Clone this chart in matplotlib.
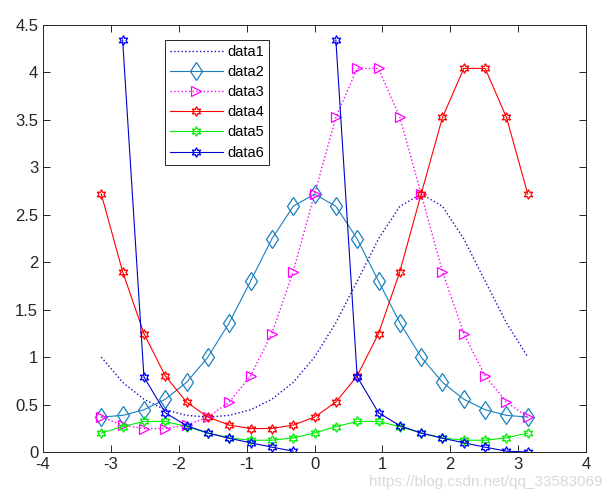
import numpy as np
import matplotlib
matplotlib.use("Agg")
import matplotlib.pyplot as plt

plt.rcParams['font.family'] = ['Liberation Sans', 'DejaVu Sans']

x = [-3.1416, -2.8274, -2.5133, -2.1991, -1.8850, -1.5708, -1.2566, -0.9425,
     -0.6283, -0.3142, 0.0, 0.3142, 0.6283, 0.9425, 1.2566, 1.5708, 1.8850,
     2.1991, 2.5133, 2.8274, 3.1416]

data1 = [1.000, 0.734, 0.556, 0.445, 0.386, 0.368, 0.386, 0.445, 0.556, 0.734,
         1.000, 1.362, 1.800, 2.246, 2.589, 2.718, 2.589, 2.246, 1.800, 1.362, 1.000]
data2 = [0.368, 0.386, 0.445, 0.556, 0.734, 1.000, 1.362, 1.800, 2.246, 2.589,
         2.718, 2.589, 2.246, 1.800, 1.362, 1.000, 0.734, 0.556, 0.445, 0.386, 0.368]
data3 = [0.368, 0.284, 0.247, 0.247, 0.284, 0.368, 0.526, 0.802, 1.248, 1.900,
         2.718, 3.526, 4.042, 4.042, 3.526, 2.718, 1.900, 1.248, 0.802, 0.526, 0.368]
data4 = [2.718, 1.900, 1.248, 0.802, 0.526, 0.368, 0.284, 0.247, 0.247, 0.284,
         0.368, 0.526, 0.802, 1.248, 1.900, 2.718, 3.526, 4.042, 4.042, 3.526, 2.718]
data5 = [0.200, 0.268, 0.322, 0.322, 0.268, 0.200, 0.149, 0.124, 0.124, 0.149,
         0.200, 0.268, 0.322, 0.322, 0.268, 0.200, 0.149, 0.124, 0.124, 0.149, 0.200]
data6 = [np.nan, 4.342, 0.792, 0.414, 0.277, 0.200, 0.145, 0.097, 0.051, 0.009,
         np.nan, 4.342, 0.792, 0.414, 0.277, 0.200, 0.145, 0.097, 0.051, 0.009, 0.000]

labels = ['data1', 'data2', 'data3', 'data4', 'data5', 'data6']
xticks = [-4, -3, -2, -1, 0, 1, 2, 3, 4]
yticks = [0, 0.5, 1, 1.5, 2, 2.5, 3, 3.5, 4, 4.5]

fig = plt.figure(figsize=(6.12, 4.96), dpi=100)
ax = fig.add_axes([0.0703, 0.0887, 0.8873, 0.861])

hexa = (6, 1, 0)
lw = 0.8
ax.plot(x, data1, ':', color='#1010c0', lw=1.0, label=labels[0])
ax.plot(x, data2, '-', color='#1a7fbf', lw=lw, marker='d', ms=9.5,
        mfc='none', mew=0.9, label=labels[1])
ax.plot(x, data3, ':', color='#ff00ff', lw=1.0, marker='>', ms=7.5,
        mfc='none', mew=0.9, label=labels[2])
ax.plot(x, data4, '-', color='#ff0000', lw=lw, marker=hexa, ms=7,
        mfc='none', mew=0.9, label=labels[3])
ax.plot(x, data5, '-', color='#00ee00', lw=lw, marker=hexa, ms=7,
        mfc='none', mew=0.9, label=labels[4])
ax.plot(x, data6, '-', color='#0000cc', lw=lw, marker=hexa, ms=7,
        mfc='none', mec='#0000ff', mew=0.9, label=labels[5])

ax.set_xlim(-4, 4)
ax.set_ylim(0, 4.5)
ax.set_xticks(xticks)
ax.set_xticklabels([str(t) for t in xticks])
ax.set_yticks(yticks)
ax.set_yticklabels(['0', '0.5', '1', '1.5', '2', '2.5', '3', '3.5', '4', '4.5'])
ax.tick_params(direction='in', top=True, right=True, labelsize=12,
               length=5, width=0.7, colors='#262626')
for s in ax.spines.values():
    s.set_linewidth(0.7)
    s.set_color('#262626')

leg = ax.legend(loc='upper left', bbox_to_anchor=(0.2247, 0.965), fontsize=10.5,
                handlelength=3.6, borderpad=0.35, labelspacing=0.42,
                handletextpad=0.3, borderaxespad=0, fancybox=False,
                framealpha=1, edgecolor='#262626')
leg.get_frame().set_linewidth(0.7)

fig.text(0.985, 0.015, 'https://blog.csdn.net/qq_33583069', ha='right', va='bottom',
         fontsize=11, color='#d8d8d8')

fig.savefig('out.png', dpi=100)
